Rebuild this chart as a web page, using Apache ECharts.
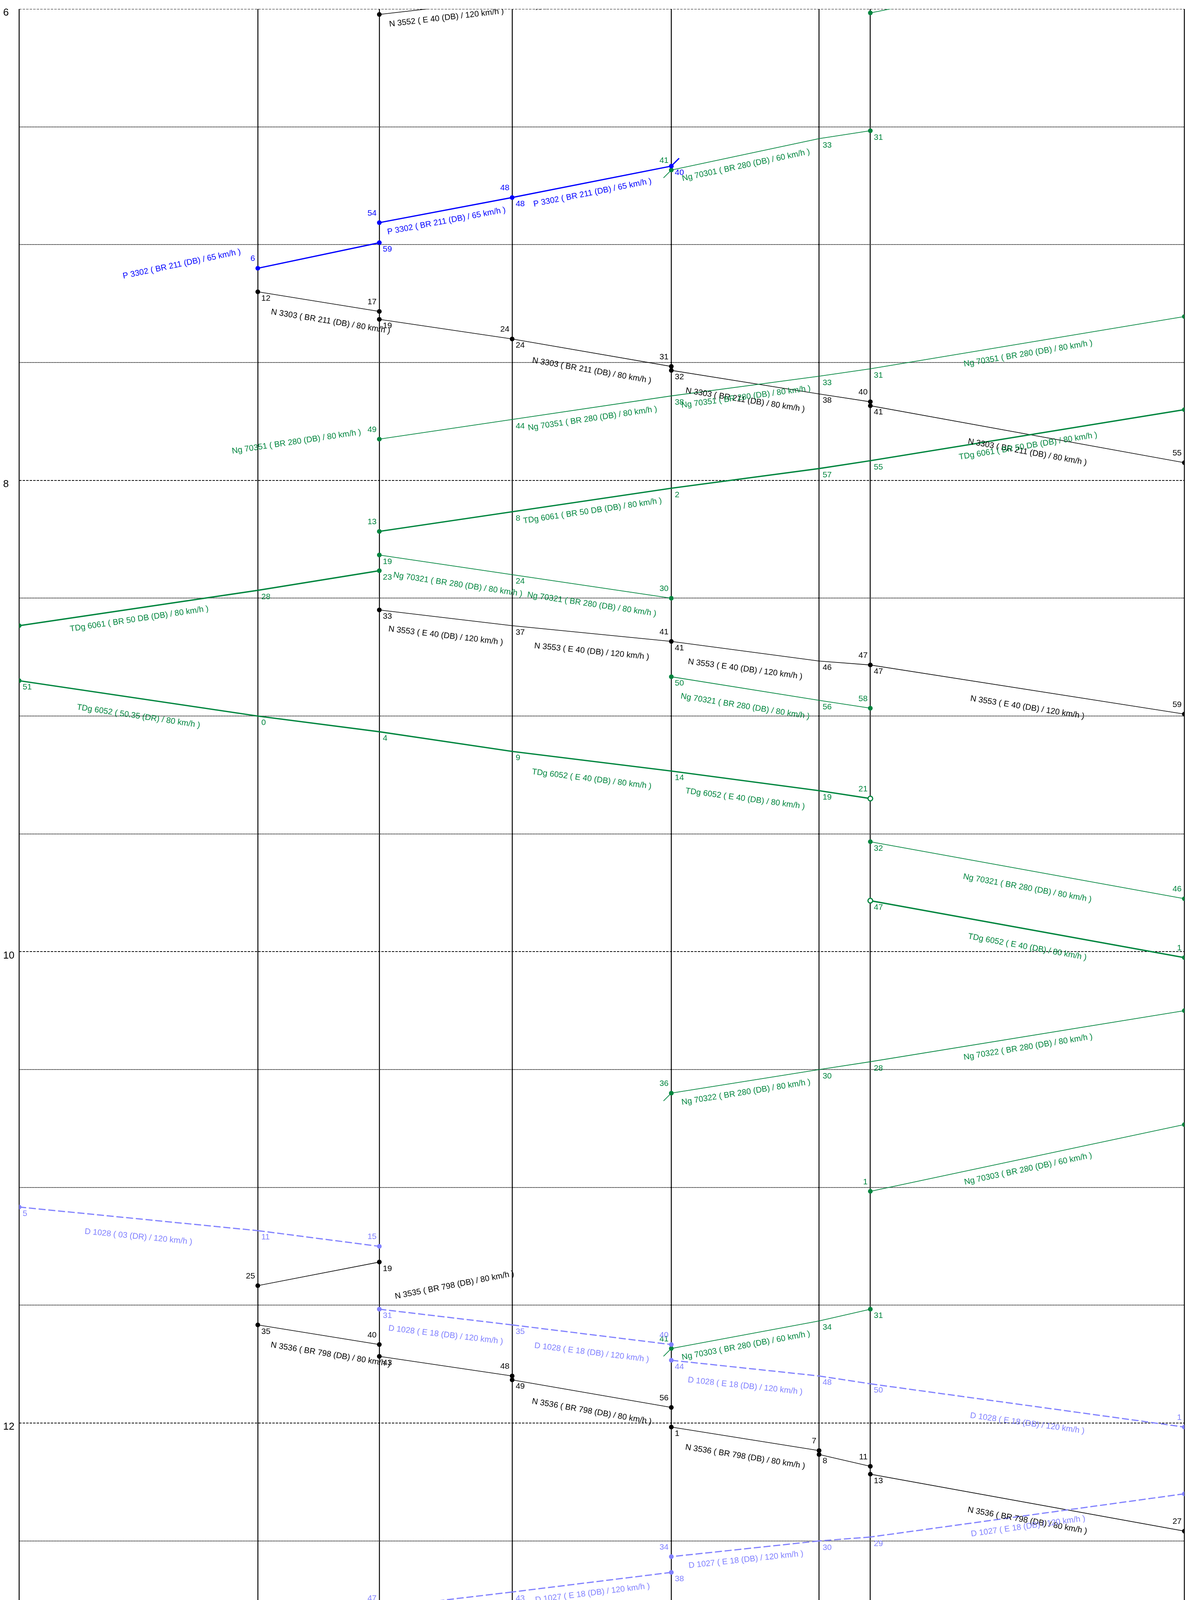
<!DOCTYPE html>
<html><head><meta charset="utf-8">
<script src="https://cdn.jsdelivr.net/npm/echarts@6/dist/echarts.min.js"></script>
<style>html,body{margin:0;padding:0;background:#fff}#c{width:3048px;height:4178px}</style>
</head><body><div id="c"></div>
<script>
// ---------------- data ----------------
const stationKm = [0, 20.48, 30.91, 42.31, 55.97, 68.65, 73.05, 100];
const axisStart = '6:00';
const axisEnd = '12:51';
const hourLabelStep = 120;     // label every 2 h
const gridStep = 30;           // grid line every 30 min

const trainNumbers = ['N 3552','Ng 70301','P 3302','N 3303','Ng 70351','TDg 6061','Ng 70321','N 3553','TDg 6052','Ng 70322','Ng 70303','D 1028','N 3535','N 3536','D 1027','Ng'];
const trainKinds   = ['N','Ng','P','N','Ng','TDg','Ng','N','TDg','Ng','Ng','D','N','N','D','Ng'];
const trainLocos   = ['E 40 (DB)','BR 280 (DB)','BR 211 (DB)','BR 211 (DB)','BR 280 (DB)','BR 50 DB (DB)','BR 280 (DB)','E 40 (DB)','50.35 (DR)','BR 280 (DB)','BR 280 (DB)','03 (DR)','BR 798 (DB)','BR 798 (DB)','E 18 (DB)','BR 280 (DB)'];
const trainSpeeds  = [120,60,65,80,80,80,80,120,80,80,60,120,80,80,120,80];
// loco change: [train, from stop index, new loco]
const locoChanges = [['TDg 6052', 1, 'E 40 (DB)'], ['D 1028', 2, 'E 18 (DB)']];
// stops: [station, arrival, departure, flag] ; [station, time] = pass without stop
const trainStops = [
  [[4,null,'5:53.5'],[3,'5:57.5'],[2,'6:01.4',null]],
  [[7,null,'5:45'],[6,'6:01','6:31'],[5,'6:33'],[4,'6:41',null]],
  [[4,null,'6:40'],[3,'6:48','6:48'],[2,'6:54.4','6:59.5'],[1,'7:06',null]],
  [[1,null,'7:12'],[2,'7:17','7:19'],[3,'7:24','7:24'],[4,'7:31','7:32'],[5,'7:38'],[6,'7:40','7:41'],[7,'7:55.5',null]],
  [[7,null,'7:18.3'],[6,'7:31.6'],[5,'7:33.5'],[4,'7:38.5'],[3,'7:44.5'],[2,'7:49.5',null]],
  [[7,null,'7:42'],[6,'7:55'],[5,'7:57'],[4,'8:02'],[3,'8:08'],[2,'8:13','8:23'],[1,'8:28'],[0,'8:37',null]],
  [[2,null,'8:19'],[3,'8:24'],[4,'8:30','8:50'],[5,'8:56'],[6,'8:58','9:32'],[7,'9:46.5',null]],
  [[2,null,'8:33'],[3,'8:37'],[4,'8:41','8:41'],[5,'8:46'],[6,'8:47','8:47'],[7,'8:59.5',null]],
  [[0,null,'8:51'],[1,'9:00'],[2,'9:04'],[3,'9:09'],[4,'9:14'],[5,'9:19'],[6,'9:21','9:47','o'],[7,'10:01.5',null]],
  [[7,null,'10:15'],[6,'10:28'],[5,'10:30'],[4,'10:36',null]],
  [[7,null,'10:44'],[6,'11:01','11:31'],[5,'11:34'],[4,'11:41',null]],
  [[0,null,'11:05'],[1,'11:11'],[2,'11:15','11:31'],[3,'11:35'],[4,'11:40','11:44'],[5,'11:48'],[6,'11:50'],[7,'12:01',null]],
  [[2,null,'11:19'],[1,'11:25',null]],
  [[1,null,'11:35'],[2,'11:40','11:43'],[3,'11:48','11:49'],[4,'11:56','12:01'],[5,'12:07','12:08'],[6,'12:11','12:13'],[7,'12:27.5',null]],
  [[7,null,'12:18'],[6,'12:29'],[5,'12:30'],[4,'12:34','12:38'],[3,'12:43'],[2,'12:47',null]],
  [[2,null,'12:50.5'],[3,'12:56',null]]
];
// branch connection strokes: [train, 'start'|'end', direction]
const branchMarks = [['P 3302','start','ur'],['Ng 70301','end','dl'],['Ng 70322','end','dl'],['Ng 70303','end','dl']];

// ---------------- layout: which segments carry a name label ----------------
// [stationA, stationB, mode]  mode: C = centred, S = nudged right, L/R = placed beside the segment
const nameLabelPlan = {
  'N 3552': [[2,3],[3,4]],
  'Ng 70301': [[4,5]],
  'P 3302': [[3,4],[2,3],[1,2,'L']],
  'N 3303': [[1,2,'S'],[3,4],[4,5],[6,7]],
  'Ng 70351': [[6,7],[4,5],[3,4],[2,3,'L2']],
  'TDg 6061': [[6,7],[3,4],[0,1]],
  'Ng 70321': [[2,3,'S'],[3,4],[4,5],[6,7]],
  'N 3553': [[2,3],[3,4],[4,5],[6,7]],
  'TDg 6052': [[0,1],[3,4],[4,5],[6,7]],
  'Ng 70322': [[6,7],[4,5]],
  'Ng 70303': [[6,7],[4,5]],
  'D 1028': [[0,1],[2,3],[3,4],[4,5],[6,7]],
  'N 3535': [[1,2,'R']],
  'N 3536': [[1,2,'S'],[3,4],[4,5],[6,7]],
  'D 1027': [[6,7],[4,5],[3,4],[2,3]]
};

// ---------------- styles ----------------
const GREEN = '#00853e';
const kindStyle = {
  N:   {color:'#000000', width:1.6},
  Ng:  {color:GREEN, width:1.8},
  P:   {color:'#0000ff', width:3.2},
  TDg: {color:GREEN, width:3.4},
  D:   {color:'#8080ff', width:3, dash:[18,7]}
};
const FONT = '"Liberation Sans", Arial, Helvetica, sans-serif';
const FS = 21;

// ---------------- build drawable items ----------------
function parseT(s){ if (s == null) return null; const p = s.split(':'); return (+p[0])*60 + parseFloat(p[1]); }
const segs = [], dots = [], minuteLabels = [], nameLabels = [], ticks = [];
trainNumbers.forEach((num, ti) => {
  const kind = trainKinds[ti];
  const stops = trainStops[ti].map(s => s.length === 2
      ? {st:s[0], arr:parseT(s[1]), dep:parseT(s[1]), pass:true}
      : {st:s[0], arr:parseT(s[1]), dep:parseT(s[2]), pass:false, ring:s[3]==='o'});
  const locoAt = i => { let l = trainLocos[ti]; locoChanges.forEach(c => { if (c[0]===num && i >= c[1]) l = c[2]; }); return l; };
  const mySegs = [];
  for (let i = 0; i < stops.length - 1; i++) {
    const a = stops[i], b = stops[i+1];
    const t1 = a.dep != null ? a.dep : a.arr, t2 = b.arr != null ? b.arr : b.dep;
    const sg = {kind, a:a.st, b:b.st, t1, t2, text: num + ' ( ' + locoAt(i) + ' / ' + trainSpeeds[ti] + ' km/h )'};
    segs.push(sg); mySegs.push(sg);
  }
  stops.forEach(s => {
    if (s.pass) { minuteLabels.push({kind, st:s.st, t:s.dep, pos:'br'}); return; }
    if (s.arr != null) { dots.push({kind, st:s.st, t:s.arr, ring:s.ring}); minuteLabels.push({kind, st:s.st, t:s.arr, pos:'tl'}); }
    if (s.dep != null) {
      if (s.dep !== s.arr) dots.push({kind, st:s.st, t:s.dep, ring:s.ring});
      minuteLabels.push({kind, st:s.st, t:s.dep, pos:'br'});
    }
  });
  branchMarks.forEach(m => {
    if (m[0] !== num) return;
    const s = m[1] === 'start' ? stops[0] : stops[stops.length-1];
    ticks.push({kind, st:s.st, t: m[1]==='start' ? s.dep : s.arr, dir:m[2]});
  });
  (nameLabelPlan[num] || []).forEach(pl => {
    const sg = mySegs.find(g => Math.min(g.a,g.b) === pl[0] && Math.max(g.a,g.b) === pl[1]);
    if (sg) nameLabels.push({seg:sg, mode:pl[2] || 'C'});
  });
});

// grid lines (axis ticks every 30 minutes)
const t0 = parseT(axisStart), t1 = parseT(axisEnd);
const gridTimes = [];
for (let t = t0; t <= t1; t += gridStep) gridTimes.push(t);

// ---------------- chart ----------------
const chart = echarts.init(document.getElementById('c'), null, {renderer:'canvas'});
function clipOf(params){ const c = params.coordSys; return {type:'rect', shape:{x:c.x, y:c.y, width:c.width, height:c.height}}; }
function wrap(params, children){ return {type:'group', clipPath: clipOf(params), children}; }
const idx = arr => arr.map((_, i) => [i]);

chart.setOption({
  animation:false,
  backgroundColor:'#ffffff',
  grid:{left:49, right:17, top:23, bottom:22},
  xAxis:{type:'value', min:stationKm[0], max:stationKm[stationKm.length-1], show:false},
  yAxis:{type:'value', inverse:true, min:t0, max:t1, interval:hourLabelStep,
    axisLine:{show:false}, axisTick:{show:false}, splitLine:{show:false},
    axisLabel:{show:true, margin:41, align:'left', verticalAlign:'top', lineHeight:20, color:'#000', fontSize:26, fontFamily:FONT,
      formatter: v => (v % hourLabelStep === 0 ? String(v/60) : '')}},
  series:[
    { // horizontal grid lines
      type:'custom', z:1, silent:true, clip:true, data: idx(gridTimes),
      renderItem:(params, api) => {
        const t = gridTimes[params.dataIndex];
        const c = params.coordSys; const y = Math.round(api.coord([stationKm[0], t])[1]);
        const major = (t % hourLabelStep === 0);
        return {type:'line', shape:{x1:c.x, y1:y, x2:c.x+c.width, y2:y},
          style:{stroke:'#000', lineWidth: 2, lineDash: major ? [6,3] : [2,1.5]}};
      }
    },
    { // station lines
      type:'custom', z:2, silent:true, clip:false, data: idx(stationKm),
      renderItem:(params, api) => {
        const c = params.coordSys; const x = Math.round(api.coord([stationKm[params.dataIndex], t0])[0]);
        return {type:'line', shape:{x1:x, y1:c.y, x2:x, y2:c.y+c.height}, style:{stroke:'#000', lineWidth:2.4}};
      }
    },
    { // train paths
      type:'custom', z:3, silent:true, clip:true, data: idx(segs),
      renderItem:(params, api) => {
        const s = segs[params.dataIndex]; const st = kindStyle[s.kind];
        const p1 = api.coord([stationKm[s.a], s.t1]), p2 = api.coord([stationKm[s.b], s.t2]);
        return wrap(params, [{type:'line', shape:{x1:p1[0], y1:p1[1], x2:p2[0], y2:p2[1]},
          style:{stroke:st.color, lineWidth:st.width, lineDash: st.dash || null, lineCap:'butt'}}]);
      }
    },
    { // branch strokes
      type:'custom', z:4, silent:true, clip:true, data: idx(ticks),
      renderItem:(params, api) => {
        const k = ticks[params.dataIndex]; const st = kindStyle[k.kind];
        const p = api.coord([stationKm[k.st], k.t]); const L = 20;
        const q = k.dir === 'ur' ? [p[0]+L, p[1]-L] : [p[0]-L, p[1]+L];
        return wrap(params, [{type:'line', shape:{x1:p[0], y1:p[1], x2:q[0], y2:q[1]}, style:{stroke:st.color, lineWidth:Math.max(st.width,1.8)}}]);
      }
    },
    { // stop dots
      type:'custom', z:5, silent:true, clip:true, data: idx(dots),
      renderItem:(params, api) => {
        const d = dots[params.dataIndex]; const st = kindStyle[d.kind];
        const p = api.coord([stationKm[d.st], d.t]);
        return wrap(params, [d.ring
          ? {type:'circle', shape:{cx:p[0], cy:p[1], r:6}, style:{fill:'#fff', stroke:st.color, lineWidth:3}}
          : {type:'circle', shape:{cx:p[0], cy:p[1], r:6}, style:{fill:st.color}}]);
      }
    },
    { // minute labels
      type:'custom', z:6, silent:true, clip:true, data: idx(minuteLabels),
      renderItem:(params, api) => {
        const m = minuteLabels[params.dataIndex]; const st = kindStyle[m.kind];
        const p = api.coord([stationKm[m.st], m.t]);
        const br = m.pos === 'br';
        return wrap(params, [{type:'text', x: br ? p[0]+9 : p[0]-7, y: br ? p[1]+17 : p[1]-24,
          style:{text:String(Math.floor(m.t % 60 + 1e-6)), fill:st.color, fontSize:FS, fontFamily:FONT,
            align: br ? 'left' : 'right', verticalAlign:'middle'}}]);
      }
    },
    { // train name labels
      type:'custom', z:6, silent:true, clip:true, data: idx(nameLabels),
      renderItem:(params, api) => {
        const n = nameLabels[params.dataIndex]; const s = n.seg; const st = kindStyle[s.kind];
        let p1 = api.coord([stationKm[s.a], s.t1]), p2 = api.coord([stationKm[s.b], s.t2]);
        if (p1[0] > p2[0]) { const tmp = p1; p1 = p2; p2 = tmp; }
        const ang = Math.atan2(p2[1]-p1[1], p2[0]-p1[0]);
        const mx = (p1[0]+p2[0])/2, my = (p1[1]+p2[1])/2;
        const tan = Math.tan(ang);
        let cx, cy;
        if (n.mode === 'L') { cx = mx - 350; cy = my + 22; }
        else if (n.mode === 'L2') { cx = mx - 382; cy = my + 32; }
        else if (n.mode === 'R') { cx = mx + 348; cy = my + 29; }
        else if (ang > 0) { const dx = n.mode === 'S' ? 31 : 0; cx = mx + dx; cy = my + 46 + dx*tan; }
        else { cx = mx + 2; cy = my + 28; }
        return wrap(params, [{type:'text', x:cx, y:cy, rotation:-ang,
          style:{text:s.text, fill:st.color, fontSize:FS, fontFamily:FONT, align:'center', verticalAlign:'middle'}}]);
      }
    }
  ]
});
</script></body></html>
